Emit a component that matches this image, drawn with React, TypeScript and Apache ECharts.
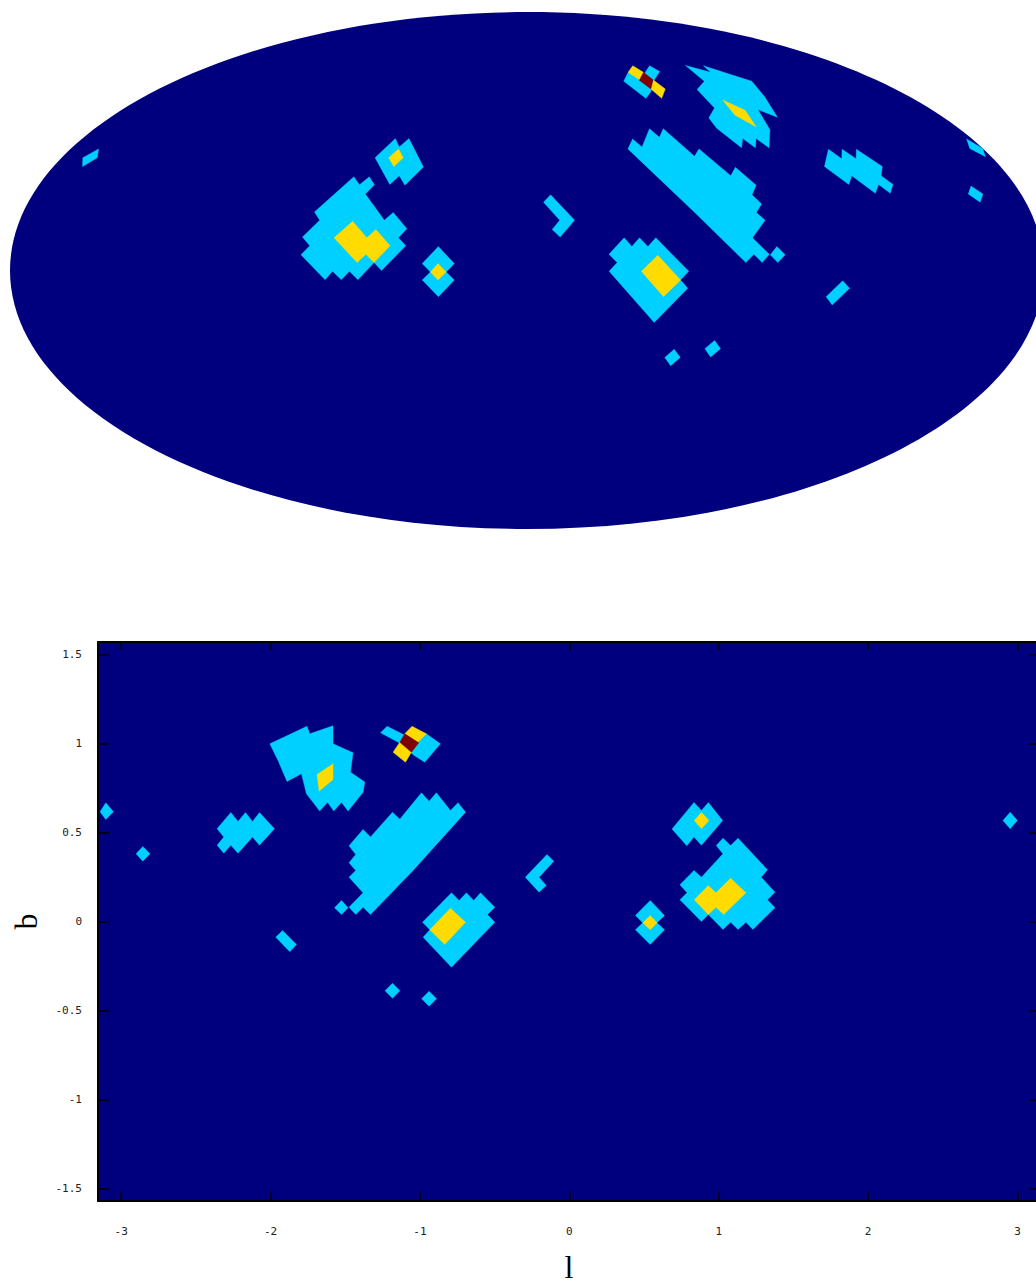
import React, { useEffect, useRef } from "react";
import * as echarts from "echarts";

type Pt = [number, number];

const xTicks = [-3, -2, -1, 0, 1, 2, 3];
const yTicks = [-1.5, -1, -0.5, 0, 0.5, 1, 1.5];

// Map regions as [l, b] vertices
const cyanRegions: Pt[][] = [
  [[-3.103,.667],[-3.052,.616],[-3.103,.573],[-3.141,.616]],
  [[-2.855,.421],[-2.807,.380],[-2.855,.339],[-2.900,.380]],
  [[-2.266,.612],[-2.218,.562],[-2.168,.612],[-2.121,.562],[-2.074,.612],[-1.974,.521],[-2.074,.429],[-2.121,.474],[-2.218,.384],[-2.266,.429],[-2.313,.384],[-2.358,.429],[-2.313,.474],[-2.358,.521]],
  [[-1.920,-.051],[-1.827,-.129],[-1.871,-.170],[-1.965,-.088]],
  [[-2.005,.998],[-1.756,1.097],[-1.738,1.054],[-1.582,1.099],[-1.582,.998],[-1.448,.948],[-1.465,.839],[-1.369,.783],[-1.381,.726],[-1.481,.620],[-1.525,.670],[-1.577,.620],[-1.619,.670],[-1.671,.620],[-1.760,.717],[-1.793,.830],[-1.890,.787],[-1.950,.904]],
  [[-1.220,1.097],[-1.108,1.049],[-.957,1.054],[-.863,.998],[-.968,.895],[-1.039,.933],[-1.146,1.007],[-1.264,1.060]],
  [[-1.475,.425],[-1.381,.517],[-1.331,.474],[-1.184,.614],[-1.135,.575],[-.990,.723],[-.939,.676],[-.890,.723],[-.796,.624],[-.745,.667],[-.695,.614],[-1.046,.287],[-1.331,.039],[-1.381,.080],[-1.430,.039],[-1.475,.080],[-1.381,.161],[-1.475,.249],[-1.430,.287],[-1.475,.330],[-1.430,.376]],
  [[-1.525,.118],[-1.481,.077],[-1.525,.039],[-1.572,.077]],
  [[-.789,.161],[-.738,.118],[-.689,.161],[-.640,.118],[-.595,.161],[-.499,.080],[-.548,.039],[-.499,-.004],[-.789,-.257],[-.979,-.088],[-.934,-.047],[-.983,-.004]],
  [[-1.184,-.347],[-1.134,-.389],[-1.184,-.431],[-1.234,-.389]],
  [[-.939,-.392],[-.889,-.434],[-.939,-.476],[-.989,-.434]],
  [[-.150,.376],[-.104,.339],[-.203,.249],[-.155,.202],[-.203,.165],[-.295,.249]],
  [[.541,.118],[.637,.034],[.587,-.007],[.637,-.047],[.541,-.129],[.442,-.047],[.491,-.007],[.442,.034]],
  [[.834,.669],[.884,.624],[.930,.669],[1.026,.567],[.884,.429],[.834,.474],[.786,.425],[.687,.519]],
  [[1.028,.468],[1.079,.427],[1.129,.468],[1.326,.290],[1.284,.249],[1.376,.165],[1.326,.122],[1.376,.077],[1.228,-.045],[1.182,-.004],[1.129,-.045],[1.079,-.004],[1.028,-.045],[.930,.039],[.884,0],[.740,.122],[.788,.161],[.740,.206],[.834,.287],[.884,.249],[1.028,.380],[.983,.427]],
  [[2.950,.614],[2.999,.567],[2.950,.521],[2.902,.567]],
];

const yellowRegions: Pt[][] = [
  [[-1.689,.826],[-1.582,.886],[-1.582,.798],[-1.675,.732]],
  [[-1.102,1.054],[-1.053,1.097],[-.957,1.054],[-1.013,1.007]],
  [[-1.135,1.007],[-1.057,.951],[-1.097,.895],[-1.180,.951]],
  [[-.796,.075],[-.695,-.004],[-.834,-.129],[-.934,-.047]],
  [[.541,.034],[.587,-.007],[.541,-.047],[.491,-.007]],
  [[.884,.614],[.934,.567],[.884,.521],[.836,.567]],
  [[1.079,.243],[1.182,.161],[1.033,.039],[.981,.080],[.930,.039],[.836,.122],[.930,.202],[.981,.161]],
];

const redRegions: Pt[][] = [
  [[-1.102,1.054],[-1.008,1.004],[-1.057,.951],[-1.135,1.007]],
];

const NAVY = "#00007f";
const CYAN = "#00d0ff";
const YELLOW = "#ffdb00";
const RED = "#7f0000";

const SQRT2 = Math.SQRT2;

// Mollweide projection of [l, b]; the upper map runs l from right to left
function mollweide([l, b]: Pt): Pt {
  let t = b;
  for (let i = 0; i < 30; i++) {
    const d = 2 * t + Math.sin(2 * t) - Math.PI * Math.sin(b);
    t -= d / (2 + 2 * Math.cos(2 * t) + 1e-9);
  }
  return [(-2 * SQRT2 * l * Math.cos(t)) / Math.PI, SQRT2 * Math.sin(t)];
}

function polygonSeries(regions: Pt[][], color: string, axisIndex: number, project: (p: Pt) => Pt) {
  return {
    type: "custom",
    xAxisIndex: axisIndex,
    yAxisIndex: axisIndex,
    coordinateSystem: "cartesian2d",
    silent: true,
    clip: true,
    data: regions.map((_, i) => [i, 0]),
    renderItem: (params: any, api: any) => ({
      type: "polygon",
      shape: { points: regions[params.dataIndex].map((p) => api.coord(project(p))) },
      style: { fill: color, stroke: color, lineWidth: 0.4 },
    }),
  };
}

const identity = (p: Pt) => p;
const tickFont = { fontFamily: "DejaVu Sans Mono", fontSize: 11, color: "#222" };
const nameFont = { fontFamily: "Liberation Serif", fontSize: 32, color: "#000" };
const frameLine = { show: true, onZero: false, lineStyle: { color: "#000", width: 2 } };

export default function App() {
  const ref = useRef<HTMLDivElement>(null);
  useEffect(() => {
    const chart = echarts.init(ref.current!, undefined, { renderer: "svg" });
    chart.setOption({
      animation: false,
      backgroundColor: "#fff",
      grid: [
        { left: 10, top: 12, width: 1034, height: 517, show: false, outerBoundsMode: "none" },
        { left: 98, top: 642, width: 942, height: 559, show: true, backgroundColor: NAVY, borderWidth: 0, outerBoundsMode: "none" },
      ],
      xAxis: [
        { gridIndex: 0, type: "value", min: -2 * SQRT2, max: 2 * SQRT2, show: false, splitLine: { show: false } },
        {
          gridIndex: 1, type: "value", min: -3.155, max: 3.15, position: "bottom",
          name: "l", nameLocation: "middle", nameGap: 50, nameTextStyle: nameFont,
          axisLine: frameLine,
          axisTick: { inside: true, length: 9, customValues: xTicks, lineStyle: { color: "#000", width: 1.5 } },
          axisLabel: { customValues: xTicks, margin: 25, formatter: (v: number) => String(v), ...tickFont },
          splitLine: { show: false },
        },
        {
          gridIndex: 1, type: "value", min: -3.155, max: 3.15, position: "top",
          axisLine: frameLine,
          axisTick: { inside: true, length: 8, customValues: xTicks, lineStyle: { color: "#000", width: 1.5 } },
          axisLabel: { show: false },
          splitLine: { show: false },
        },
      ],
      yAxis: [
        { gridIndex: 0, type: "value", min: -SQRT2, max: SQRT2, show: false, splitLine: { show: false } },
        {
          gridIndex: 1, type: "value", min: -1.57, max: 1.57, position: "left",
          name: "b", nameLocation: "middle", nameGap: 56, nameRotate: 90, nameTextStyle: nameFont,
          axisLine: frameLine,
          axisTick: { inside: true, length: 11, customValues: yTicks, lineStyle: { color: "#000", width: 1.5 } },
          axisLabel: { customValues: yTicks, margin: 16, formatter: (v: number) => String(v), ...tickFont },
          splitLine: { show: false },
        },
        {
          gridIndex: 1, type: "value", min: -1.57, max: 1.57, position: "right",
          axisLine: frameLine,
          axisTick: { inside: true, length: 11, customValues: yTicks, lineStyle: { color: "#000", width: 1.5 } },
          axisLabel: { show: false },
          splitLine: { show: false },
        },
      ],
      series: [
        {
          type: "custom",
          xAxisIndex: 0,
          yAxisIndex: 0,
          coordinateSystem: "cartesian2d",
          silent: true,
          clip: false,
          data: [[0, 0]],
          renderItem: (_: any, api: any) => {
            const c = api.coord([0, 0]);
            const s = api.size([2 * SQRT2, SQRT2]);
            return { type: "ellipse", shape: { cx: c[0], cy: c[1], rx: s[0], ry: s[1] }, style: { fill: NAVY } };
          },
        },
        polygonSeries(cyanRegions, CYAN, 0, mollweide),
        polygonSeries(yellowRegions, YELLOW, 0, mollweide),
        polygonSeries(redRegions, RED, 0, mollweide),
        polygonSeries(cyanRegions, CYAN, 1, identity),
        polygonSeries(yellowRegions, YELLOW, 1, identity),
        polygonSeries(redRegions, RED, 1, identity),
      ],
    });
    return () => chart.dispose();
  }, []);
  return <div ref={ref} style={{ position: "fixed", left: 0, top: 0, width: 1036, height: 1286 }} />;
}
